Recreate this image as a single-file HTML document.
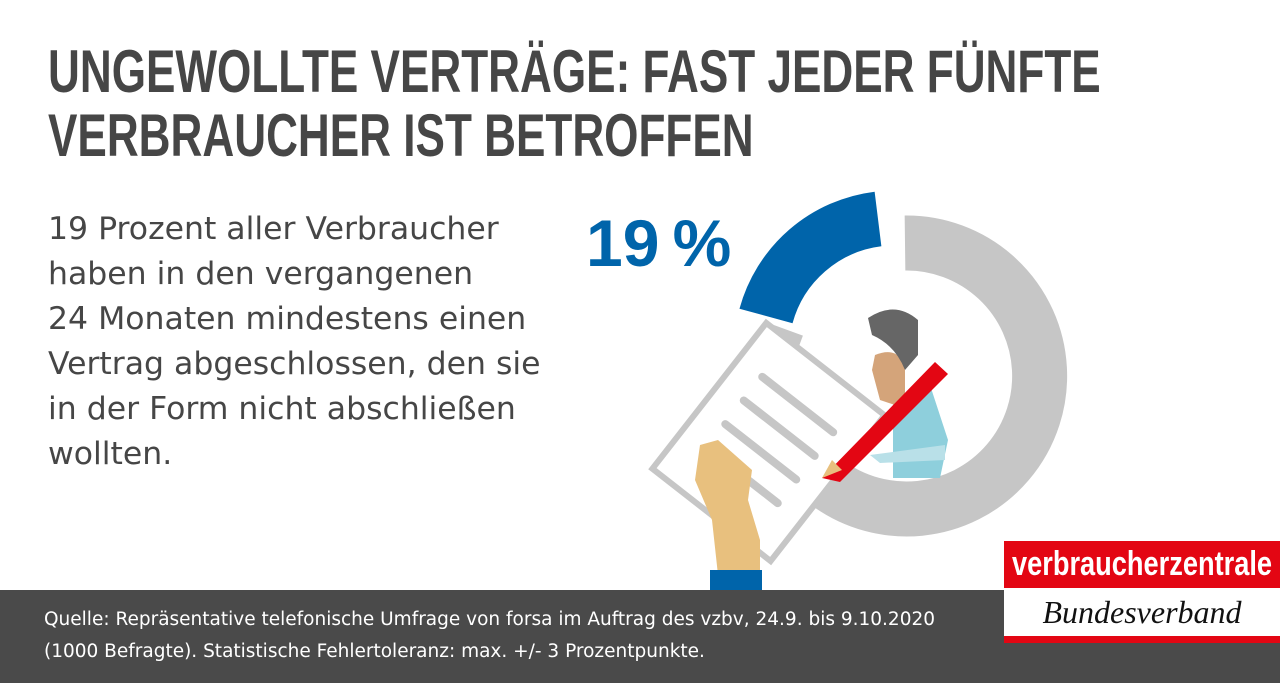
<!DOCTYPE html>
<html><head><meta charset="utf-8"><style>
body{margin:0;width:1280px;height:683px;overflow:hidden;background:#fff;position:relative;font-family:"Liberation Sans",sans-serif;}
.t{position:absolute;left:48px;top:40px;font-weight:bold;font-size:60px;line-height:64px;color:#464646;white-space:nowrap;transform:scaleX(0.735);transform-origin:0 0;}
.b{position:absolute;left:48px;top:207px;font-family:"DejaVu Sans",sans-serif;font-size:31.5px;line-height:45px;color:#464646;white-space:nowrap;}
.f{position:absolute;left:0;top:590px;width:1280px;height:93px;background:#4a4a4a;}
.ft{position:absolute;left:44px;top:604px;font-family:"DejaVu Sans",sans-serif;font-size:18.5px;line-height:32px;color:#fff;white-space:nowrap;}
.lr{position:absolute;left:1004px;top:541px;width:276px;height:47px;background:#e30613;}
.lr span{position:absolute;left:8px;top:0;font-weight:bold;font-size:34px;line-height:47px;color:#fff;white-space:nowrap;transform:scaleX(0.8);transform-origin:0 0;}
.lw{position:absolute;left:1004px;top:588px;width:276px;height:48px;background:#fff;border-bottom:7px solid #e30613;font-family:"Liberation Serif",serif;font-style:italic;font-size:32px;line-height:48px;text-align:center;color:#111;}
.p{position:absolute;left:586px;top:205px;font-weight:bold;font-size:66px;color:#0064aa;white-space:nowrap;}
</style></head><body>
<div class="t">UNGEWOLLTE VERTRÄGE: FAST JEDER FÜNFTE<br>VERBRAUCHER IST BETROFFEN</div>
<div class="b">19 Prozent aller Verbraucher<br>haben in den vergangenen<br>24 Monaten mindestens einen<br>Vertrag abgeschlossen, den sie<br>in der Form nicht abschließen<br>wollten.</div>
<div class="p">19&thinsp;%</div>
<svg style="position:absolute;left:0;top:0" width="1280" height="683">
<g fill="none" stroke-width="55">
<path d="M905 243 A133 133 0 1 1 775 395 " stroke="#c6c6c6"/>
<path d="M771 318 A133 133 0 0 1 883 221" stroke="#0064aa" transform="translate(-5,-2)"/>
</g>
<rect x="765" y="328" width="35" height="25" fill="#c6c6c6" transform="rotate(20 780 340)"/>
<g transform="rotate(38 770 440)">
<rect x="695" y="350" width="150" height="185" fill="#fff" stroke="#c6c6c6" stroke-width="6"/>
<g stroke="#c6c6c6" stroke-width="8" stroke-linecap="round"><line x1="725" y1="395" x2="815" y2="395"/><line x1="725" y1="425" x2="815" y2="425"/><line x1="725" y1="455" x2="815" y2="455"/><line x1="725" y1="485" x2="815" y2="485"/></g>
</g>
<path d="M700 445 L718 440 L752 470 L748 500 L760 540 L760 575 L718 575 L712 520 L695 480 Z" fill="#e8c07e"/>
<rect x="710" y="570" width="52" height="20" fill="#0064aa"/>
<path d="M893 400 L930 385 L948 440 L940 478 L893 478 Z" fill="#8ecfdc"/>
<path d="M875 355 Q900 345 905 370 L905 395 L895 405 L880 400 L872 370 Z" fill="#d4a47a"/>
<path d="M868 318 Q895 300 918 320 L918 355 L905 370 Q895 345 872 335 Z" fill="#666"/>
<path d="M822 478 L935 362 L948 374 L840 482 Z" fill="#e30613"/>
<path d="M822 478 L832 460 L842 470 Z" fill="#e8c07e"/>
<path d="M870 455 L945 445 L945 460 L880 463 Z" fill="#b9e0e8"/>
</svg>
<div class="f"></div>
<div class="ft">Quelle: Repräsentative telefonische Umfrage von forsa im Auftrag des vzbv, 24.9. bis 9.10.2020<br>(1000 Befragte). Statistische Fehlertoleranz: max. +/- 3 Prozentpunkte.</div>
<div class="lr"><span>verbraucherzentrale</span></div>
<div class="lw">Bundesverband</div>
</body></html>
